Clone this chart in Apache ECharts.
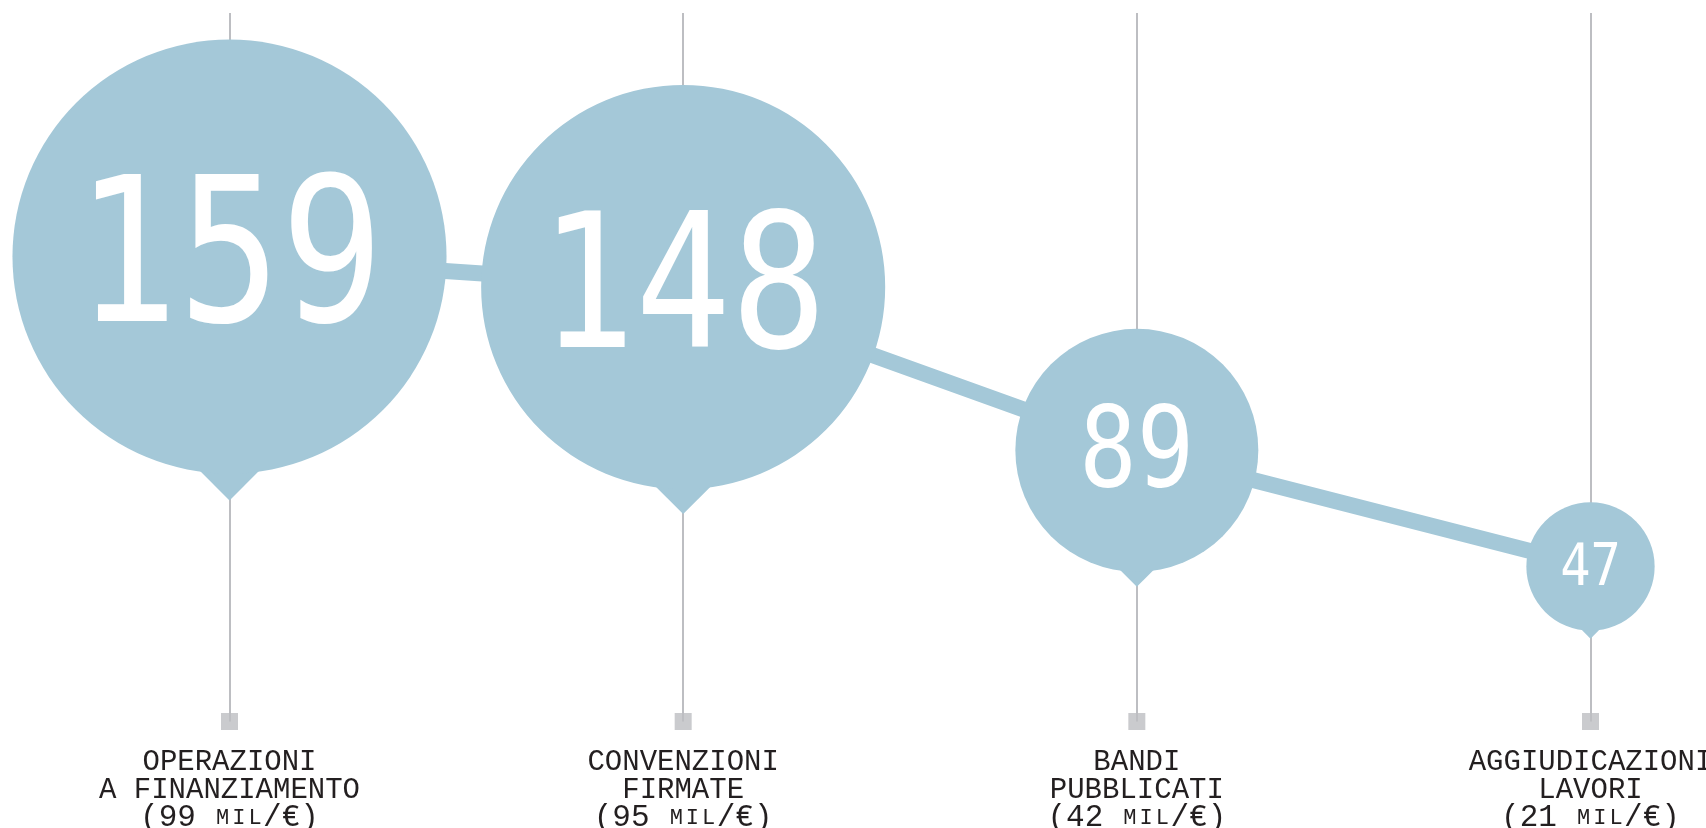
<!DOCTYPE html>
<html>
<head>
<meta charset="utf-8">
<script src="https://cdn.jsdelivr.net/npm/echarts@6/dist/echarts.min.js"></script>
<style>
html, body { margin: 0; background: #fff; }
#chart { width: 1706px; height: 828px; }
</style>
</head>
<body>
<div id="chart"></div>
<script>
// dati
var categories = ['OPERAZIONI\nA FINANZIAMENTO', 'CONVENZIONI\nFIRMATE', 'BANDI\nPUBBLICATI', 'AGGIUDICAZIONI\nLAVORI'];
var counts = [159, 148, 89, 47];
var millions = [99, 95, 42, 21];

var BLUE = '#a4c8d8';
var GREY = '#bdbec2';
var Y_MIN = -9;
var Y_MAX = 247;
var PX_PER_UNIT = 1.365; // raggio del cerchio per unità

var chart = echarts.init(document.getElementById('chart'));

var option = {
  animation: false,
  grid: {
    left: 229.5,
    right: 115.5,
    top: 13,
    bottom: 106.5,
    outerBoundsMode: 'none'
  },
  xAxis: {
    type: 'category',
    data: categories,
    boundaryGap: false,
    axisLine: { show: false },
    axisTick: { show: false },
    splitLine: {
      show: true,
      lineStyle: { color: GREY, width: 2 }
    },
    axisLabel: {
      interval: 0,
      hideOverlap: false,
      margin: 27,
      formatter: function (val, idx) {
        var lines = val.split('\n').map(function (s) { return '{t|' + s + '}'; });
        // "MIL" in maiuscoletto, una lettera per token per mantenere il passo
        return lines.join('\n') + '\n{n|(' + millions[idx] + ' }{s|M}{s|I}{s|L}{n|/€)}';
      },
      rich: {
        t: { fontFamily: 'Liberation Mono', fontSize: 29, lineHeight: 28, color: '#231f20' },
        n: { fontFamily: 'Liberation Mono', fontSize: 31, lineHeight: 27, color: '#231f20' },
        s: { fontFamily: 'Liberation Mono', fontSize: 22, lineHeight: 27, color: '#231f20', padding: [0, 1.5] }
      }
    }
  },
  yAxis: {
    type: 'value',
    min: Y_MIN,
    max: Y_MAX,
    show: false,
    splitLine: { show: false }
  },
  series: [
    {
      type: 'line',
      data: counts,
      symbol: 'none',
      lineStyle: { color: BLUE, width: 16 },
      z: 2
    },
    {
      type: 'scatter',
      data: counts.map(function (v, i) { return [i, Y_MIN]; }),
      symbol: 'rect',
      symbolSize: 17,
      itemStyle: { color: GREY },
      clip: false,
      z: 2
    },
    {
      type: 'custom',
      data: counts.map(function (v, i) { return [i, v]; }),
      z: 3,
      renderItem: function (params, api) {
        var v = api.value(1);
        var c = api.coord([api.value(0), v]);
        var r = v * PX_PER_UNIT;
        return {
          type: 'group',
          children: [
            {
              type: 'polygon',
              shape: {
                points: [
                  [c[0] - 0.2 * r, c[1] + 0.924 * r],
                  [c[0], c[1] + 1.124 * r],
                  [c[0] + 0.2 * r, c[1] + 0.924 * r],
                  [c[0], c[1] + 0.6 * r]
                ]
              },
              style: { fill: BLUE }
            },
            {
              type: 'circle',
              shape: { cx: c[0], cy: c[1], r: r },
              style: { fill: BLUE }
            },
            {
              type: 'text',
              x: c[0],
              y: c[1] + 0.055 * r,
              scaleX: 0.85,
              style: {
                text: String(v),
                x: 0,
                y: 0,
                fill: '#fff',
                fontFamily: 'DejaVu Sans Mono',
                fontSize: 0.925 * r,
                align: 'center',
                verticalAlign: 'middle'
              }
            }
          ]
        };
      }
    }
  ]
};
chart.setOption(option);
</script>
</body>
</html>
